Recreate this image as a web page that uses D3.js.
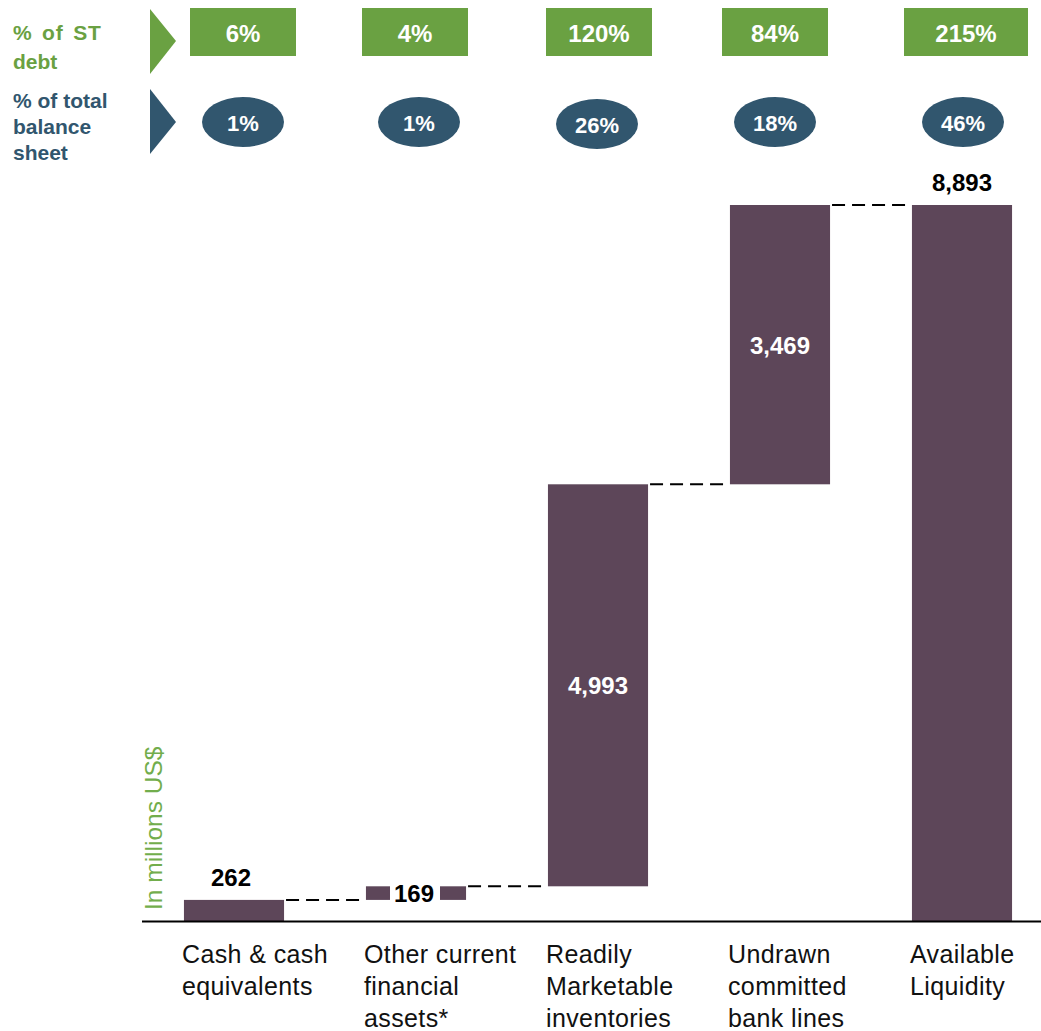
<!DOCTYPE html>
<html>
<head>
<meta charset="utf-8">
<script src="https://cdn.jsdelivr.net/npm/d3@7"></script>
<style>
  html, body { margin: 0; padding: 0; background: #fff; }
  svg { display: block; font-family: "Liberation Sans", Arial, sans-serif; }
</style>
</head>
<body>
<svg id="chart" width="1041" height="1031"></svg>
<script>
// ---- data ----
const categories = ["Cash & cash equivalents", "Other current financial assets*", "Readily Marketable inventories", "Undrawn committed bank lines", "Available Liquidity"];
const categoryLines = [["Cash & cash", "equivalents"], ["Other current", "financial", "assets*"], ["Readily", "Marketable", "inventories"], ["Undrawn", "committed", "bank lines"], ["Available", "Liquidity"]];
const values = [262, 169, 4993, 3469, 8893];
const isTotal = [false, false, false, false, true];
const valueLabels = ["262", "169", "4,993", "3,469", "8,893"];
const stDebtPct = ["6%", "4%", "120%", "84%", "215%"];
const balanceSheetPct = ["1%", "1%", "26%", "18%", "46%"];
const rowLabelST = ["% of ST", "debt"];
const rowLabelBS = ["% of total", "balance", "sheet"];
const yTitle = "In millions US$";

// ---- style / layout ----
const barColor = "#5d4659";
const green = "#6aa142";
const blue = "#31566e";
const titleGreen = "#72ad4c";
const labelMode = ["above", "split", "inside", "inside", "above"];
const boxDx = [9, -1, 1, -5, 4];
const boxW = [106, 106, 106, 106, 124];
const ellDx = [9, 3, -1, -5, 1];

const svg = d3.select("#chart");

// waterfall computation
let run = 0;
const bars = values.map((v, i) => {
  let start, end;
  if (isTotal[i]) { start = 0; end = v; run = v; }
  else { start = run; end = run + v; run = end; }
  return { cat: categories[i], start, end, i };
});

const x = d3.scaleBand().domain(categories).range([143, 1053]).paddingInner(0.45).paddingOuter(0.225);
const y = d3.scaleLinear().domain([0, 8893]).range([921, 205]);

// bars
svg.append("g").selectAll("rect").data(bars).join("rect")
  .attr("x", d => x(d.cat))
  .attr("width", x.bandwidth())
  .attr("y", d => y(d.end))
  .attr("height", d => y(d.start) - y(d.end))
  .attr("fill", barColor);

// connectors
const conn = bars.slice(0, -1).map((d, i) => ({ x1: x(d.cat) + x.bandwidth(), x2: x(bars[i + 1].cat), level: d.end }));
svg.append("g").selectAll("line").data(conn).join("line")
  .attr("x1", d => d.x1 + 2).attr("x2", d => d.x2 - 2)
  .attr("y1", d => y(d.level)).attr("y2", d => y(d.level))
  .attr("stroke", "#000").attr("stroke-width", 2).attr("stroke-dasharray", "13,7");

// baseline axis
const xAxis = d3.axisBottom(x).tickSize(0).tickFormat("");
const axisG = svg.append("g").attr("transform", "translate(0,921)").call(xAxis);
axisG.select(".domain").remove();
svg.append("line").attr("x1", 142).attr("x2", 1041).attr("y1", 921.5).attr("y2", 921.5)
  .attr("stroke", "#000").attr("stroke-width", 2);

// value labels
const vl = svg.append("g");
bars.forEach((d, i) => {
  const cx = x(d.cat) + x.bandwidth() / 2;
  const mode = labelMode[i];
  if (mode === "above") {
    vl.append("text").attr("x", cx - (i === 0 ? 3 : 0)).attr("y", y(d.end) - 14)
      .attr("text-anchor", "middle").attr("font-size", 24).attr("font-weight", "bold")
      .attr("fill", "#000").text(valueLabels[i]);
  } else if (mode === "split") {
    const cy = (y(d.start) + y(d.end)) / 2;
    vl.append("rect").attr("x", cx - 26).attr("width", 50).attr("y", cy - 14).attr("height", 28).attr("fill", "#fff");
    vl.append("text").attr("x", cx - 2).attr("y", cy + 9)
      .attr("text-anchor", "middle").attr("font-size", 24).attr("font-weight", "bold")
      .attr("fill", "#000").text(valueLabels[i]);
  } else {
    const cy = (y(d.start) + y(d.end)) / 2;
    vl.append("text").attr("x", cx).attr("y", cy + 9)
      .attr("text-anchor", "middle").attr("font-size", 24).attr("font-weight", "bold")
      .attr("fill", "#fff").text(valueLabels[i]);
  }
});

// category labels
const cl = svg.append("g");
bars.forEach((d, i) => {
  const t = cl.append("text").attr("x", x(d.cat) - 2).attr("y", 963)
    .attr("font-size", 25).attr("letter-spacing", 0.4).attr("fill", "#111");
  categoryLines[i].forEach((line, k) => {
    t.append("tspan").attr("x", x(d.cat) - 2).attr("dy", k === 0 ? 0 : 32).text(line);
  });
});

// y title
svg.append("text").attr("transform", "translate(162,910) rotate(-90)")
  .attr("font-size", 24.5).attr("fill", titleGreen).text(yTitle);

// top row: % of ST debt
const topG = svg.append("g");
topG.append("path").attr("d", "M150,9 L176,41 L150,74 Z").attr("fill", green);
topG.append("path").attr("d", "M150,89 L176,122 L150,154 Z").attr("fill", blue);

const st = topG.append("text").attr("font-size", 21).attr("font-weight", "bold").attr("fill", green);
st.append("tspan").attr("x", 13).attr("y", 40).attr("word-spacing", 3).attr("letter-spacing", 0.8).text(rowLabelST[0]);
st.append("tspan").attr("x", 13).attr("y", 69).text(rowLabelST[1]);
const bs = topG.append("text").attr("font-size", 21).attr("font-weight", "bold").attr("fill", blue);
rowLabelBS.forEach((l, k) => bs.append("tspan").attr("x", 13).attr("y", 108 + k * 26).text(l));

categories.forEach((c, i) => {
  const cx = x(c) + x.bandwidth() / 2 + boxDx[i];
  topG.append("rect").attr("x", cx - boxW[i] / 2).attr("y", 8).attr("width", boxW[i]).attr("height", 48).attr("fill", green);
  topG.append("text").attr("x", cx).attr("y", 42).attr("text-anchor", "middle")
    .attr("font-size", 24).attr("font-weight", "bold").attr("fill", "#fff").text(stDebtPct[i]);
  const ex = x(c) + x.bandwidth() / 2 + ellDx[i];
  const ey = i === 2 ? 124 : 122;
  topG.append("ellipse").attr("cx", ex).attr("cy", ey).attr("rx", 41).attr("ry", 25).attr("fill", blue);
  topG.append("text").attr("x", ex).attr("y", ey + 9).attr("text-anchor", "middle")
    .attr("font-size", 22).attr("font-weight", "bold").attr("fill", "#fff").text(balanceSheetPct[i]);
});
</script>
</body>
</html>
